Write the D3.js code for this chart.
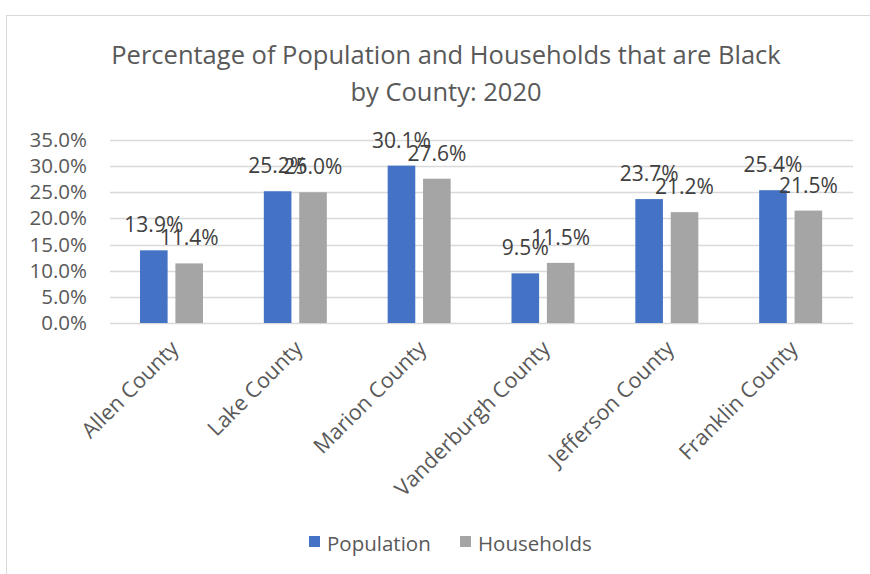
<!DOCTYPE html>
<meta charset="utf-8">
<style>
body { margin: 0; background: #fff; }
text { font-family: "Open Sans", sans-serif; }
</style>
<svg id="chart"></svg>
<script src="https://cdn.jsdelivr.net/npm/d3@7"></script>
<script>

const counties = ["Allen County", "Lake County", "Marion County", "Vanderburgh County", "Jefferson County", "Franklin County"]
const population = [13.9, 25.2, 30.1, 9.5, 23.7, 25.4]
const households = [11.4, 25.0, 27.6, 11.5, 21.2, 21.5]
const seriesNames = ["Population", "Households"]
const seriesColors = ["#4472C4", "#A5A5A5"]
const yTicks = [0, 5, 10, 15, 20, 25, 30, 35]

const W = 870, H = 574
const margin = {top: 140, right: 17, bottom: 251, left: 110}

const svg = d3.select("#chart")
    .attr("width", W)
    .attr("height", H)

// chart frame
svg.append("rect")
    .attr("x", 6.5).attr("y", 15.5)
    .attr("width", 900).attr("height", 700)
    .attr("fill", "#fff")
    .attr("stroke", "#d9d9d9")

svg.append("text")
    .attr("x", 446).attr("y", 64)
    .attr("text-anchor", "middle")
    .attr("font-size", 25.5)
    .attr("fill", "#595959")
    .selectAll("tspan")
    .data(["Percentage of Population and Households that are Black", "by County: 2020"])
    .join("tspan")
      .attr("x", 446)
      .attr("dy", (d, i) => i ? 37 : 0)
      .text(d => d)

const x = d3.scaleBand()
    .domain(counties)
    .range([margin.left, W - margin.right])

const x1 = d3.scaleBand()
    .domain(seriesNames)
    .range([30, 93])
    .paddingInner(0.22)

const y = d3.scaleLinear()
    .domain([0, 35])
    .range([H - margin.bottom, margin.top])

// gridlines
svg.append("g")
    .selectAll("line")
    .data(yTicks)
    .join("line")
      .attr("x1", margin.left).attr("x2", W - margin.right)
      .attr("y1", d => Math.round(y(d)) + 0.5)
      .attr("y2", d => Math.round(y(d)) + 0.5)
      .attr("stroke", "#d9d9d9")
      .attr("stroke-width", 1.5)

// y axis labels
const yAxis = svg.append("g")
    .attr("transform", `translate(${margin.left}, 0)`)
    .call(d3.axisLeft(y).tickValues(yTicks).tickSize(0).tickPadding(23).tickFormat(d => d.toFixed(1) + "%"))
yAxis.select(".domain").remove()
yAxis.selectAll("text")
    .attr("font-family", "Open Sans, sans-serif")
    .attr("font-size", 20.5)
    .attr("fill", "#595959")

const rows = counties.map((c, i) => ({county: c, values: [population[i], households[i]]}))

const groups = svg.append("g")
    .selectAll("g")
    .data(rows)
    .join("g")
      .attr("transform", d => `translate(${x(d.county)}, 0)`)

groups.selectAll("rect")
    .data(d => d.values.map((v, j) => ({v, s: seriesNames[j], c: seriesColors[j]})))
    .join("rect")
      .attr("x", d => x1(d.s))
      .attr("width", x1.bandwidth())
      .attr("y", d => y(d.v))
      .attr("height", d => y(0) - y(d.v))
      .attr("fill", d => d.c)

groups.selectAll("text")
    .data(d => d.values.map((v, j) => ({v, s: seriesNames[j]})))
    .join("text")
      .attr("x", d => x1(d.s) + x1.bandwidth() / 2)
      .attr("y", d => y(d.v) - 18)
      .attr("text-anchor", "middle")
      .attr("font-size", 21)
      .attr("fill", "#404040")
      .text(d => d.v.toFixed(1) + "%")

// x axis labels
svg.append("g")
    .selectAll("text")
    .data(counties)
    .join("text")
      .attr("transform", d => `translate(${x(d) + x.bandwidth() / 2 + 8}, 350) rotate(-45)`)
      .attr("text-anchor", "end")
      .attr("font-size", 21.5)
      .attr("fill", "#595959")
      .text(d => d)

// legend
const legend = svg.append("g")
    .attr("transform", "translate(309, 544)")
const legendX = [0, 151]
seriesNames.forEach((s, i) => {
  legend.append("rect")
      .attr("x", legendX[i]).attr("y", -8)
      .attr("width", 11).attr("height", 11)
      .attr("fill", seriesColors[i])
  legend.append("text")
      .attr("x", legendX[i] + 18).attr("y", 7)
      .attr("font-size", 20.5)
      .attr("fill", "#595959")
      .text(s)
})

</script>
